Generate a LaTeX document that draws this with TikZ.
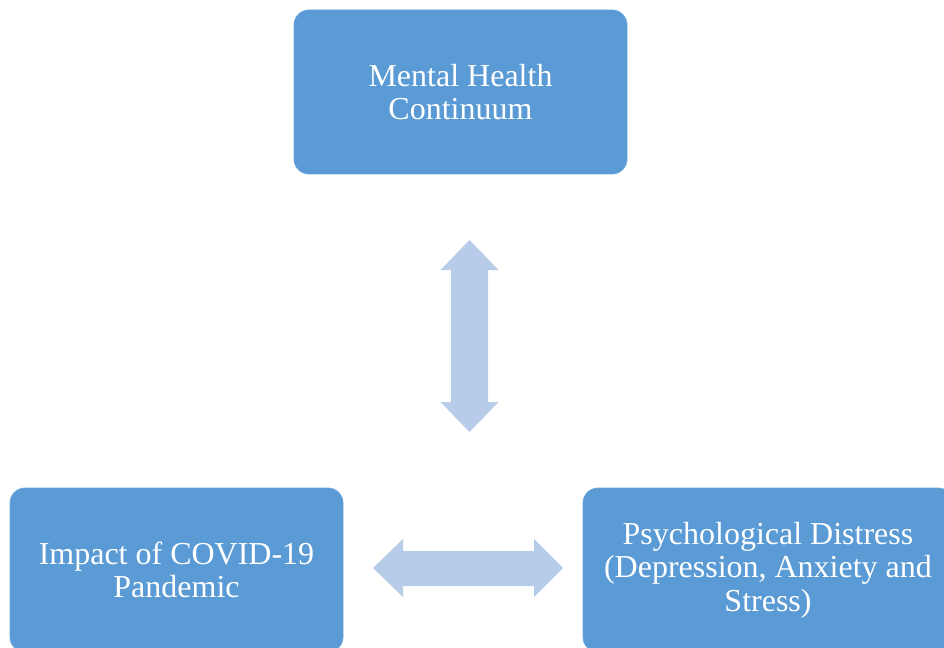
\documentclass[tikz,border=0pt]{standalone}
\usepackage{fontspec}
\setmainfont{Liberation Serif}
\definecolor{boxblue}{HTML}{5B9BD5}
\definecolor{boxedge}{HTML}{6CA6DA}
\definecolor{arrowblue}{HTML}{B6CCE8}
\tikzset{
  box/.style={rectangle, rounded corners=11.25pt, fill=boxblue, draw=boxedge, line width=0.6pt,
    text=white, align=center, font=\fontsize{24}{25}\selectfont, inner sep=0pt},
  blockarrow/.style={fill=arrowblue}
}
\begin{document}
\begin{tikzpicture}[x=0.75pt, y=-0.75pt]
\useasboundingbox (0,0) rectangle (944,648);
\begin{scope}
\clip (0,0) rectangle (944,648);
\node[box, minimum width=249.75pt, minimum height=123pt] (mhc) at (460.5,92) {Mental Health\\Continuum};
\node[box, minimum width=249.75pt, minimum height=123pt] (covid) at (176.5,570) {Impact of COVID-19\\Pandemic};
\node[box, minimum width=277.5pt, minimum height=123pt] (pd) at (768,570) {Psychological Distress\\(Depression, Anxiety and\\Stress)};
\end{scope}
% vertical double block arrow
\fill[blockarrow] (469.5,240) -- (498.5,270) -- (488,270) -- (488,402) -- (498.5,402) -- (469.5,432)
  -- (440.5,402) -- (451,402) -- (451,270) -- (440.5,270) -- cycle;
% horizontal double block arrow
\fill[blockarrow] (373,568) -- (403,539) -- (403,551) -- (534,551) -- (534,539) -- (563,568)
  -- (534,597) -- (534,586) -- (403,586) -- (403,597) -- cycle;
\end{tikzpicture}
\end{document}
